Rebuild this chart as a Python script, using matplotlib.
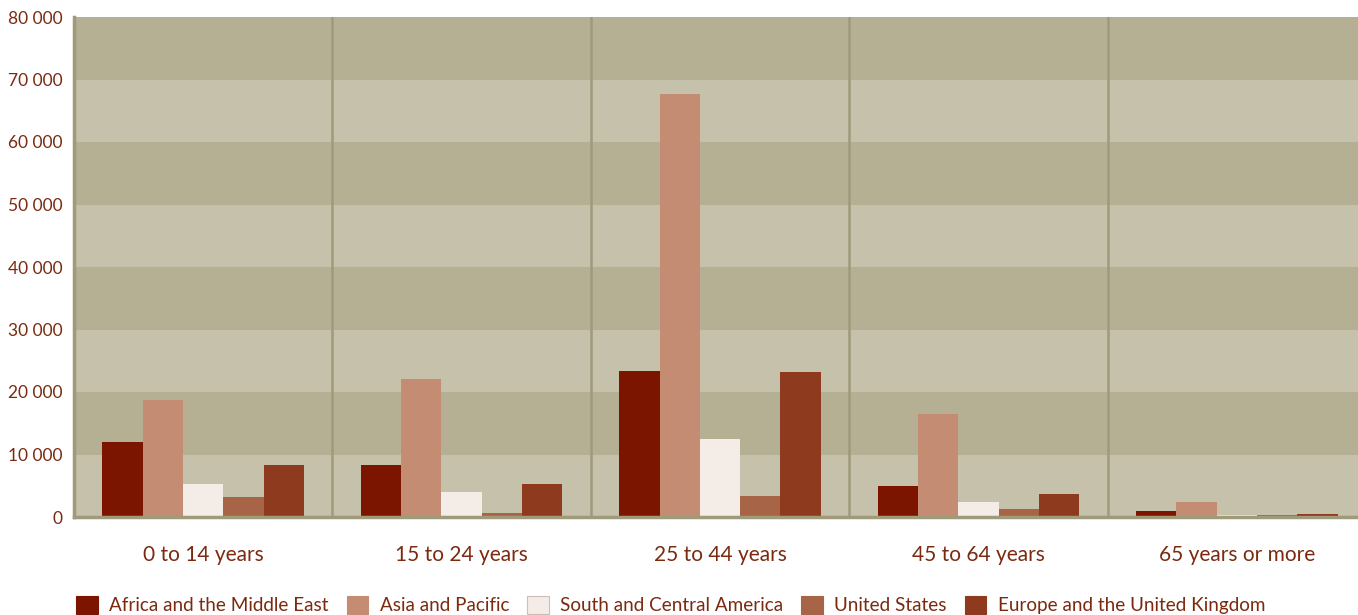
import matplotlib.pyplot as plt
from matplotlib.patches import Patch
import numpy as np

groups = ['0 to 14 years', '15 to 24 years', '25 to 44 years', '45 to 64 years', '65 years or more']
regions = ['Africa and the Middle East', 'Asia and Pacific', 'South and Central America',
           'United States', 'Europe and the United Kingdom']
africa = [12000, 8300, 23400, 5000, 1000]
asia = [18700, 22100, 67700, 16500, 2400]
south_america = [5300, 4000, 12500, 2400, 300]
united_states = [3200, 600, 3400, 1300, 350]
europe = [8300, 5300, 23200, 3700, 500]
series = [africa, asia, south_america, united_states, europe]
colors = ['#7b1500', '#c48c73', '#f4ece7', '#a86446', '#8e3a1e']

txt = '#7b2a10'
dark = '#b5b094'
light = '#c5c1ab'
rule = '#9e9a7a'

plt.rcParams['font.family'] = ['Lato', 'DejaVu Sans']

fig = plt.figure(figsize=(13.58, 6.15), dpi=100)
ax = fig.add_axes([74 / 1358, 1 - 517 / 615, 1292 / 1358, 500 / 615])
ax.set_facecolor(light)

# alternating bands
for lo in range(10000, 80000, 20000):
    ax.axhspan(lo, lo + 10000, color=dark, lw=0, zorder=0)

x = np.arange(len(groups))
w = 0.156
for i, vals in enumerate(series):
    ax.bar(x + (i - 2) * w, vals, w, color=colors[i], lw=0, zorder=2)

for sep in x[1:] - 0.5:
    ax.axvline(sep, color=rule, lw=1.8, zorder=1)

ax.set_xlim(-0.5, len(groups) - 0.5)
ax.set_ylim(0, 80000)
yt = np.arange(0, 80001, 10000)
ax.set_yticks(yt)
ax.set_yticklabels(['{:,}'.format(v).replace(',', ' ') for v in yt], color=txt, fontsize=12.5)
ax.set_xticks(x)
ax.set_xticklabels(groups, color=txt, fontsize=15)
ax.tick_params(axis='both', length=0)
ax.tick_params(axis='y', pad=8.5)
ax.tick_params(axis='x', pad=20)

for s in ['top', 'right']:
    ax.spines[s].set_visible(False)
ax.spines['left'].set_color(rule)
ax.spines['left'].set_linewidth(2.5)
ax.spines['bottom'].set_color(rule)
ax.spines['bottom'].set_linewidth(2.5)

handles = [Patch(facecolor=c, edgecolor=('#cdbfb5' if c == '#f4ece7' else c), lw=0.8) for c in colors]
fig.legend(handles, regions, loc='center left', bbox_to_anchor=(76 / 1358, 1 - 605 / 615),
           ncol=5, frameon=False, fontsize=13.6, handlelength=1.15, handleheight=1.15,
           handletextpad=0.6, columnspacing=0.95, labelcolor=txt, borderaxespad=0, borderpad=0)

plt.savefig('out.png')
